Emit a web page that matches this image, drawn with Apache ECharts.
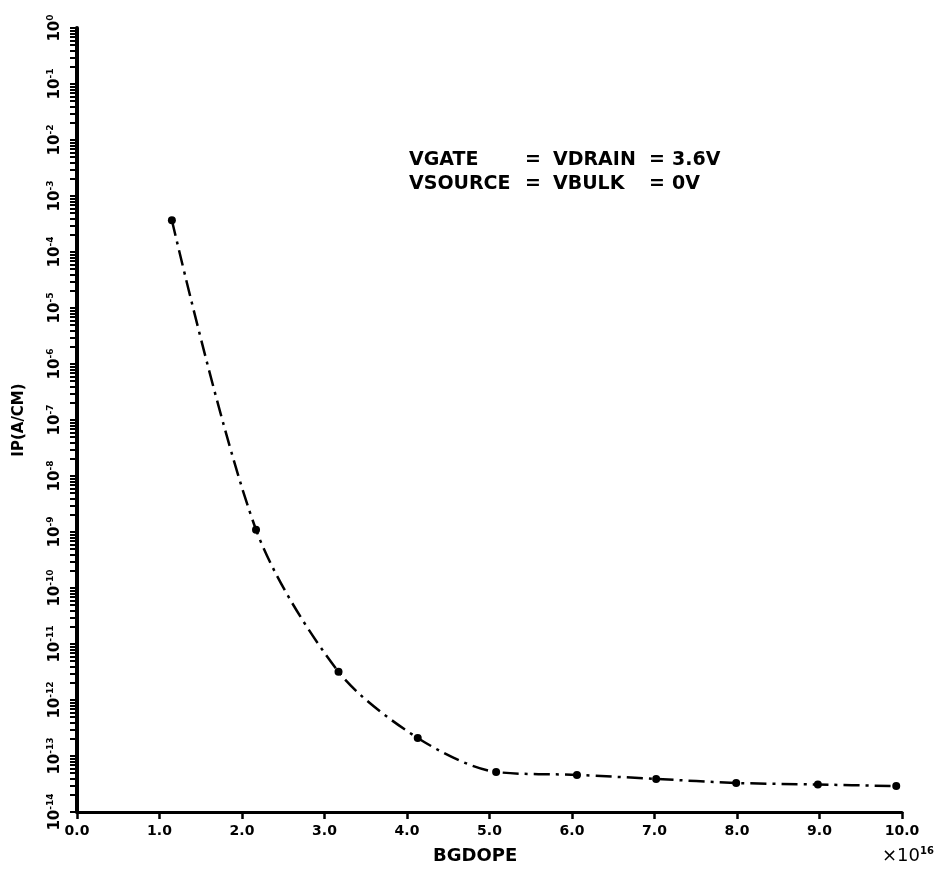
<!DOCTYPE html>
<html><head><meta charset="utf-8">
<script src="https://cdn.jsdelivr.net/npm/echarts@6/dist/echarts.min.js"></script>
<style>html,body{margin:0;padding:0;background:#fff}#c{width:948px;height:876px}</style>
</head><body><div id="c"></div>
<script>
// Data (x in units of 1e16, y = IP in A/cm)
var bgdope = [1.15, 2.17, 3.17, 4.13, 5.08, 6.06, 7.02, 7.99, 8.98, 9.93];
var ipValues = [3.7e-4, 1.1e-9, 3.2e-12, 2.1e-13, 5.2e-14, 4.6e-14, 3.9e-14, 3.3e-14, 3.1e-14, 2.9e-14];
var xTicks = [0,1,2,3,4,5,6,7,8,9,10];
var yDecades = [-14,-13,-12,-11,-10,-9,-8,-7,-6,-5,-4,-3,-2,-1,0];
var minorMult = [1,2,3,4,5,6,7,8,9];
var annotLine1 = ['VGATE', '=', 'VDRAIN', '=', '3.6V'];
var annotLine2 = ['VSOURCE', '=', 'VBULK', '=', '0V'];

var tickVals = [];
yDecades.forEach(function(d){
  minorMult.forEach(function(m){
    var v = m * Math.pow(10, d);
    if (v <= 1.0000001) tickVals.push(v);
  });
});

var FONT = 'DejaVu Sans';
var chart = echarts.init(document.getElementById('c'), null, {renderer:'canvas'});
var colX = [409, 525, 553, 649, 672];
var graphics = [];
function addLine(arr, y){
  arr.forEach(function(t,i){
    graphics.push({type:'text', left: colX[i], top: y, style:{text:t, font:'bold 19px "DejaVu Sans"', fill:'#000'}});
  });
}
addLine(annotLine1, 151);
addLine(annotLine2, 175);
graphics.push({type:'text', left: 433, top: 847, style:{text:'BGDOPE', font:'bold 18px "DejaVu Sans"', fill:'#000'}});
graphics.push({type:'text', left: 882, top: 846, style:{text:'×10{s|16}', font:'18px "DejaVu Sans"', fill:'#000',
  rich:{s:{fontSize:10, fontWeight:'bold', fontFamily:FONT, verticalAlign:'top', padding:[0,0,10,0]}}}});

chart.setOption({
  animation:false,
  backgroundColor:'#fff',
  grid:{left:77, right:46, top:28, bottom:64, containLabel:false},
  graphic: graphics,
  xAxis:{
    type:'value', min:0, max:10, interval:1,
    axisLine:{show:true, onZero:false, lineStyle:{color:'#000', width:3}},
    axisTick:{show:true, inside:false, length:7, lineStyle:{color:'#000', width:2.5}},
    splitLine:{show:false},
    axisLabel:{color:'#000', fontFamily:FONT, fontWeight:'bold', fontSize:14, margin:12,
      formatter:function(v){return v.toFixed(1);}}
  },
  yAxis:{
    type:'log', logBase:10, min:1e-14, max:1, interval:1,
    name:'IP(A/CM)', nameLocation:'middle', nameGap:50, nameRotate:90,
    nameTextStyle:{color:'#000', fontFamily:FONT, fontWeight:'bold', fontSize:15},
    axisLine:{show:true, onZero:false, lineStyle:{color:'#000', width:4}},
    axisTick:{show:true, inside:false, length:7, customValues: tickVals, lineStyle:{color:'#000', width:2}},
    minorTick:{show:false},
    splitLine:{show:false},
    axisLabel:{color:'#000', rotate:90, margin:12, fontFamily:FONT, fontWeight:'bold', fontSize:15,
      formatter:function(v){ var e = Math.round(Math.log10(v)); return '10{s|' + e + '}'; },
      rich:{s:{fontSize:9, fontWeight:'bold', fontFamily:FONT, color:'#000', padding:[0,0,10,0]}}}
  },
  series:[{
    type:'line',
    data: bgdope.map(function(x,i){return [x, ipValues[i]];}),
    smooth:0.3,
    symbol:'circle', symbolSize:8,
    itemStyle:{color:'#000'},
    lineStyle:{color:'#000', width:2.5, type:[16,6,3,6]}
  }]
});
</script></body></html>
